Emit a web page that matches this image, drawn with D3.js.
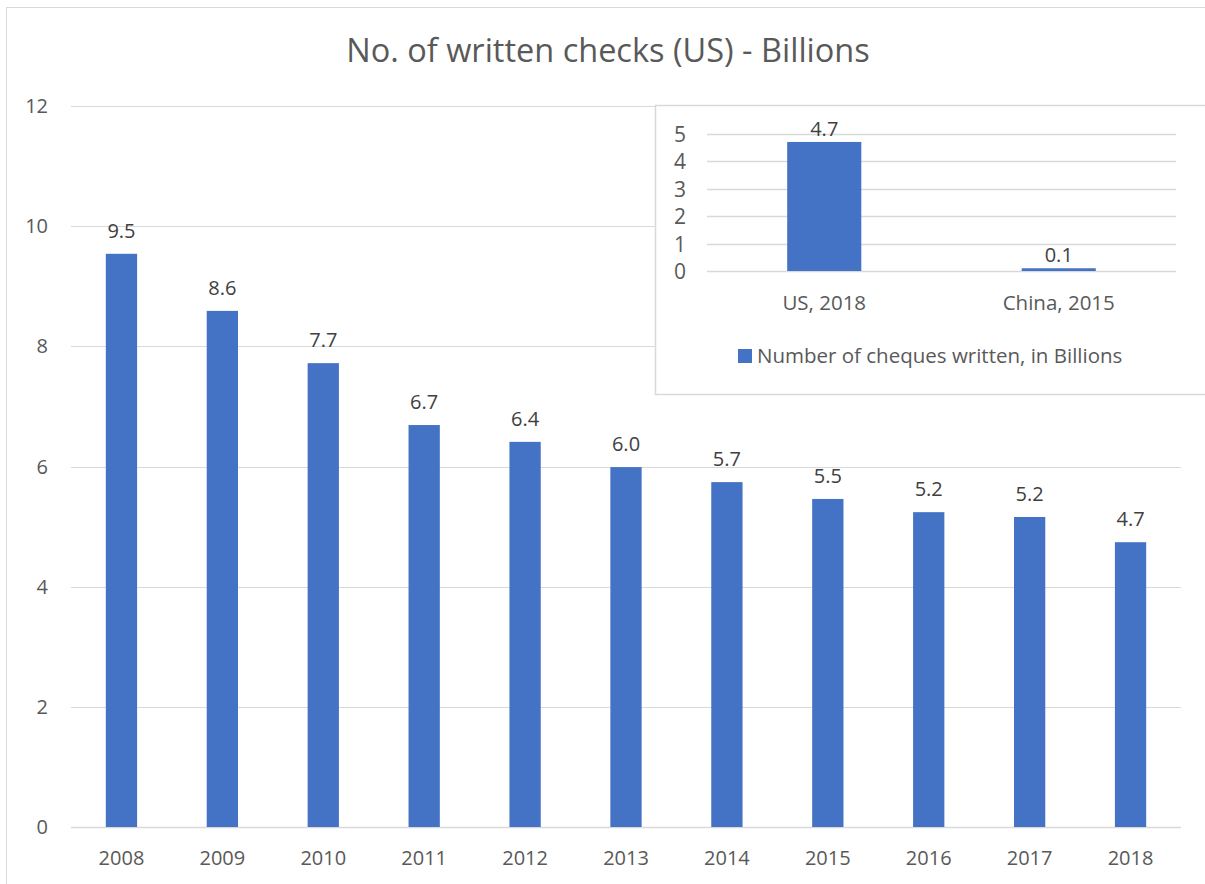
<!DOCTYPE html>
<html>
<head>
<meta charset="utf-8">
<script src="https://cdn.jsdelivr.net/npm/d3@7"></script>
<style>
  html, body { margin: 0; padding: 0; background: #fff; }
  svg { display: block; font-family: "Open Sans", "Noto Sans", sans-serif; }
</style>
</head>
<body>
<svg id="chart" width="1205" height="884"></svg>
<script>
// Checks written in the US per year (billions)
const years = ["2008", "2009", "2010", "2011", "2012", "2013", "2014", "2015", "2016", "2017", "2018"];
const checks = [9.54, 8.59, 7.72, 6.69, 6.41, 5.99, 5.74, 5.46, 5.24, 5.16, 4.74];
const mainTicks = [0, 2, 4, 6, 8, 10, 12];

// Inset comparison: US vs China
const insetCats = ["US, 2018", "China, 2015"];
const insetVals = [4.71, 0.1];
const insetTicks = [0, 1, 2, 3, 4, 5];
const insetLegend = "Number of cheques written, in Billions";

const BAR = "#4472C4", GRID = "#D9D9D9", TEXT = "#595959", LABEL = "#404040";
const svg = d3.select("#chart");

// outer frame
svg.append("rect").attr("x", 6.5).attr("y", 7.5).attr("width", 1210).attr("height", 890)
  .attr("fill", "#fff").attr("stroke", GRID).attr("stroke-width", 1);

// title
svg.append("text").attr("x", 608).attr("y", 62).attr("text-anchor", "middle")
  .attr("font-size", 32.5).attr("fill", TEXT).text("No. of written checks (US) - Billions");

// ---- main chart ----
const x = d3.scaleBand().domain(years).range([71, 1181]).paddingInner(0.69).paddingOuter(0.345);
const y = d3.scaleLinear().domain([0, 12]).range([827, 106]);

const gy = svg.append("g");
gy.selectAll("line").data(mainTicks).join("line")
  .attr("x1", 71).attr("x2", 1181)
  .attr("y1", d => Math.round(y(d)) + 0.5).attr("y2", d => Math.round(y(d)) + 0.5)
  .attr("stroke", GRID).attr("stroke-width", d => d === 0 ? 1.5 : 1);
gy.selectAll("text").data(mainTicks).join("text")
  .attr("x", 48).attr("y", d => y(d) + 7).attr("text-anchor", "end")
  .attr("font-size", 20).attr("fill", TEXT).text(d => d);

svg.append("g").selectAll("rect").data(years).join("rect")
  .attr("x", d => x(d)).attr("width", x.bandwidth())
  .attr("y", (d, i) => y(checks[i])).attr("height", (d, i) => y(0) - y(checks[i]))
  .attr("fill", BAR);

svg.append("g").selectAll("text").data(years).join("text")
  .attr("x", d => x(d) + x.bandwidth() / 2).attr("y", (d, i) => y(checks[i]) - 16)
  .attr("text-anchor", "middle").attr("font-size", 20).attr("fill", LABEL)
  .text((d, i) => (Math.round(checks[i] * 10) / 10).toFixed(1));

svg.append("g").selectAll("text").data(years).join("text")
  .attr("x", d => x(d) + x.bandwidth() / 2).attr("y", 865)
  .attr("text-anchor", "middle").attr("font-size", 20).attr("fill", TEXT).text(d => d);

// ---- inset chart ----
const inset = svg.append("g");
inset.append("rect").attr("x", 655.5).attr("y", 105.5).attr("width", 560).attr("height", 289)
  .attr("fill", "#fff").attr("stroke", GRID).attr("stroke-width", 1.5);

const xi = d3.scaleBand().domain(insetCats).range([707, 1176]).paddingInner(0.684).paddingOuter(0.342);
const yi = d3.scaleLinear().domain([0, 5]).range([271, 134]);

inset.selectAll("line.g").data(insetTicks).join("line").attr("class", "g")
  .attr("x1", 707).attr("x2", 1176)
  .attr("y1", d => Math.round(yi(d)) + 0.5).attr("y2", d => Math.round(yi(d)) + 0.5)
  .attr("stroke", GRID).attr("stroke-width", 1.5);
inset.selectAll("text.yt").data(insetTicks).join("text").attr("class", "yt")
  .attr("x", 686).attr("y", d => yi(d) + 8).attr("text-anchor", "end")
  .attr("font-size", 21).attr("fill", TEXT).text(d => d);

inset.selectAll("rect.b").data(insetCats).join("rect").attr("class", "b")
  .attr("x", d => xi(d)).attr("width", xi.bandwidth())
  .attr("y", (d, i) => yi(insetVals[i])).attr("height", (d, i) => yi(0) - yi(insetVals[i]))
  .attr("fill", BAR);

inset.selectAll("text.v").data(insetCats).join("text").attr("class", "v")
  .attr("x", d => xi(d) + xi.bandwidth() / 2).attr("y", (d, i) => yi(insetVals[i]) - 6)
  .attr("text-anchor", "middle").attr("font-size", 20).attr("fill", LABEL)
  .text((d, i) => insetVals[i].toFixed(1));

inset.selectAll("text.c").data(insetCats).join("text").attr("class", "c")
  .attr("x", d => xi(d) + xi.bandwidth() / 2).attr("y", 310)
  .attr("text-anchor", "middle").attr("font-size", 20.5).attr("fill", TEXT).text(d => d);

// legend
inset.append("rect").attr("x", 738).attr("y", 349).attr("width", 14).attr("height", 14).attr("fill", BAR);
inset.append("text").attr("x", 757).attr("y", 363).attr("font-size", 20.5).attr("fill", TEXT).text(insetLegend);
</script>
</body>
</html>
